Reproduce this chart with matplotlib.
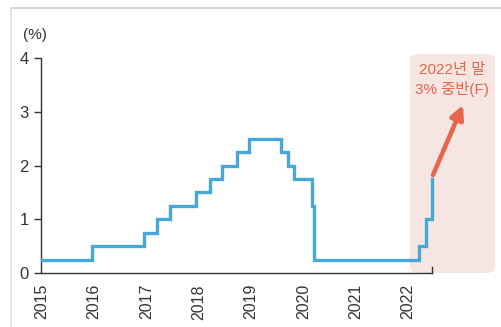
import pandas as pd
import matplotlib.pyplot as plt
from matplotlib.patches import FancyBboxPatch
from matplotlib.lines import Line2D

plt.rcParams['font.family'] = ['Liberation Sans', 'Noto Sans CJK KR', 'DejaVu Sans']

# 미국 기준금리(상단) 변경일과 금리
dates = ['2015-01-01', '2015-12-16', '2016-12-14', '2017-03-15', '2017-06-14',
         '2017-12-13', '2018-03-21', '2018-06-13', '2018-09-26', '2018-12-19',
         '2019-07-31', '2019-09-18', '2019-10-30', '2020-03-03', '2020-03-15',
         '2022-03-16', '2022-05-04', '2022-06-15']
rates = [0.25, 0.5, 0.75, 1.0, 1.25, 1.5, 1.75, 2.0, 2.25, 2.5,
         2.25, 2.0, 1.75, 1.25, 0.25, 0.5, 1.0, 1.75]
end_date = '2022-06-17'
years = [2015, 2016, 2017, 2018, 2019, 2020, 2021, 2022]
y_ticks = [0, 1, 2, 3, 4]

note_text = '2022년 말\n3% 중반(F)'
line_color = '#46A8D6'
note_color = '#E4664C'

x = pd.to_datetime(dates + [end_date])
y = rates + [rates[-1]]

fig = plt.figure(figsize=(5.02, 3.27), dpi=100)
W, H = 502, 327
ax = fig.add_axes([41.5 / W, 54 / H, (432 - 41.5) / W, 215 / H])

# 바깥 회색 테두리 (위, 왼쪽)
fig.add_artist(Line2D([11 / W, 1], [1 - 8 / H, 1 - 8 / H], transform=fig.transFigure, color='#D0D0D0', lw=1.2))
fig.add_artist(Line2D([11 / W, 11 / W], [0, 1 - 8 / H], transform=fig.transFigure, color='#E2E2E2', lw=1.2))

# 전망 영역 상자
box = FancyBboxPatch((410 / W, 54 / H), (495 - 410) / W, (273 - 54) / H,
                     boxstyle='round,pad=0,rounding_size=0.018', transform=fig.transFigure,
                     facecolor='#F6E6E1', edgecolor='none', zorder=0)
fig.add_artist(box)

ax.patch.set_alpha(0)
ax.step(x, y, where='post', color=line_color, lw=2.4, solid_joinstyle='miter', zorder=3, clip_on=False)

ax.set_xlim(pd.Timestamp('2015-01-01'), pd.Timestamp(end_date))
ax.set_ylim(0, 4)
ax.set_yticks(y_ticks)
ax.set_xticks([pd.Timestamp(f'{yr}-01-01') for yr in years])
ax.set_xticklabels([str(yr) for yr in years], rotation=90)
ax.tick_params(axis='x', length=0, pad=8, labelsize=11.5, colors='#333333')
ax.tick_params(axis='y', length=5, width=1, pad=4, labelsize=12, colors='#333333')

for s in ['top', 'right']:
    ax.spines[s].set_visible(False)
for s in ['left', 'bottom']:
    ax.spines[s].set_color('#333333')
    ax.spines[s].set_linewidth(1)

# x축 끝 눈금
ax.plot([1, 1], [0, 0.03], transform=ax.transAxes, color='#333333', lw=1, clip_on=False)

fig.text(35 / W, 1 - 35 / H, '(%)', ha='center', va='center', fontsize=11, color='#333333')

fig.text(452 / W, 1 - 80 / H, note_text, ha='center', va='center', fontsize=11,
         color=note_color, linespacing=1.3)

ax.annotate('', xy=(463 / W, 1 - 105 / H), xytext=(433 / W, 1 - 175 / H),
            xycoords='figure fraction', textcoords='figure fraction',
            arrowprops=dict(arrowstyle='-|>,head_length=0.8,head_width=0.4', color=note_color, lw=3.3,
                            shrinkA=0, shrinkB=0))

plt.savefig('out.png', dpi=100)
